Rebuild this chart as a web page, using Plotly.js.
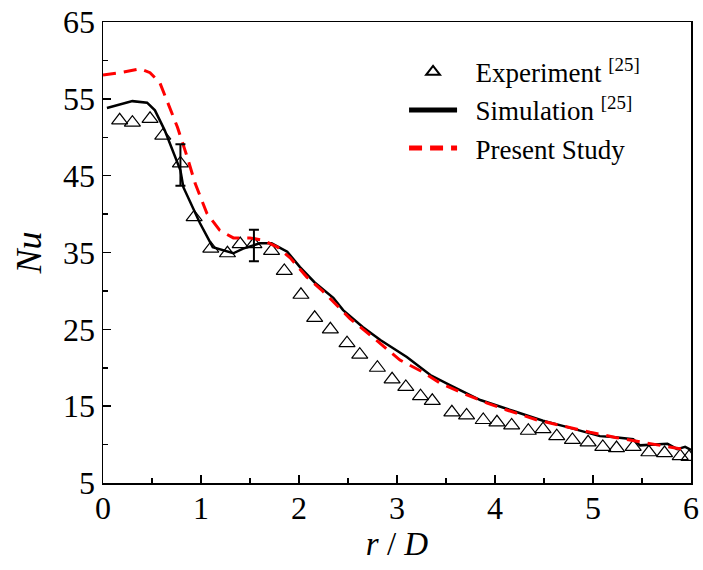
<!DOCTYPE html>
<html><head><meta charset="utf-8">
<script src="https://cdn.plot.ly/plotly-3.0.1.min.js"></script>
<style>html,body{margin:0;padding:0;background:#fff}#c{width:703px;height:570px}</style>
</head><body><div id="c"></div>
<script>
const expX = [0.17,0.30,0.48,0.61,0.79,0.93,1.10,1.27,1.40,1.54,1.72,1.85,2.02,2.16,2.32,2.49,2.62,2.80,2.95,3.09,3.24,3.36,3.56,3.71,3.88,4.02,4.17,4.34,4.49,4.63,4.79,4.95,5.10,5.24,5.41,5.57,5.73,5.89,5.98];
const expY = [52.2,51.9,52.4,50.2,46.6,39.6,35.5,34.9,36.1,36.1,35.2,32.6,29.5,26.5,25.0,23.2,21.7,20.0,18.5,17.5,16.3,15.7,14.2,13.8,13.2,12.9,12.5,11.8,12.0,11.1,10.6,10.3,9.7,9.55,9.7,9.0,8.9,8.5,8.4];
const errX = [0.79,1.54];
const errY = [46.4,35.9];
const errV = [2.7,2.05];
const simX = [0.04,0.30,0.45,0.53,0.63,0.70,0.79,0.82,0.91,0.99,1.12,1.33,1.43,1.60,1.72,1.88,2.01,2.16,2.35,2.45,2.65,2.83,3.10,3.34,3.54,3.85,4.18,4.49,4.73,5.07,5.20,5.41,5.48,5.76,5.86,5.94,6.0];
const simY = [53.8,54.7,54.5,53.5,50.9,48.7,45.7,43.5,40.9,38.8,35.7,34.9,35.5,36.2,36.2,35.1,33.1,31.1,29.1,27.5,25.3,23.6,21.4,19.05,17.75,15.8,14.4,13.1,12.3,11.1,11.0,10.7,9.9,10.1,9.4,9.7,9.3];
const presX = [0,0.17,0.38,0.48,0.58,0.66,0.76,0.86,0.94,1.06,1.19,1.33,1.50,1.63,1.78,1.91,2.08,2.24,2.52,2.76,3.03,3.27,3.44,3.67,3.92,4.12,4.43,4.97,5.24,5.55,5.96];
const presY = [58.1,58.4,58.9,58.4,57.1,54.5,51.3,47.4,44.0,40.1,37.9,36.9,36.9,36.6,35.7,34.3,31.8,30.0,26.4,23.9,21.0,19.4,18.0,16.7,15.4,14.5,13.2,11.6,10.9,10.2,9.3];
const xTicks = [0,1,2,3,4,5,6];
const yTicks = [5,15,25,35,45,55,65];

const FONT = 'Liberation Serif';
const traces = [
  {x: expX, y: expY, mode: 'markers', type: 'scatter', name: '\u2002Experiment <sup>[25]</sup>',
   marker: {symbol: 'triangle-up-open', size: 14, color: '#000', line: {width: 1.2, color: '#000'}}},
  {x: simX, y: simY, mode: 'lines', type: 'scatter', name: '\u2002Simulation <sup>[25]</sup>',
   line: {color: '#000', width: 2.5}},
  {x: presX, y: presY, mode: 'lines', type: 'scatter', name: '\u2002Present Study',
   line: {color: '#ff0000', width: 3, dash: '13px,8px'}},
  {x: errX, y: errY, mode: 'markers', type: 'scatter', showlegend: false, hoverinfo: 'skip',
   marker: {size: 1, opacity: 0},
   error_y: {type: 'data', array: errV, visible: true, color: '#000', thickness: 2, width: 5}}
];
const axisCommon = {
  showgrid: false, zeroline: false, showline: true, linecolor: '#000', linewidth: 1.5,
  mirror: true, ticks: 'inside', ticklen: 8, tickwidth: 1.5, tickcolor: '#000',
  tickfont: {family: FONT, size: 32, color: '#000'},
  minor: {ticks: 'inside', ticklen: 5, tickwidth: 1.5, tickcolor: '#000'}
};
const layout = {
  width: 703, height: 570,
  margin: {l: 103, r: 12, t: 22, b: 87},
  paper_bgcolor: '#fff', plot_bgcolor: '#fff',
  font: {family: FONT, color: '#000'},
  showlegend: true,
  legend: {x: 0.512, y: 0.944, xanchor: 'left', yanchor: 'top', bgcolor: 'rgba(0,0,0,0)',
           font: {family: FONT, size: 27, color: '#000'}, itemwidth: 48, itemsizing: 'constant', tracegroupgap: 0},
  xaxis: Object.assign({}, axisCommon, {
    range: [0, 6], tickvals: xTicks, ticktext: xTicks.map(String), ticklabelstandoff: -4,
    minor: Object.assign({}, axisCommon.minor, {dtick: 0.5, tick0: 0}),
    title: {text: '<i>r</i> / <i>D</i>', font: {family: FONT, size: 33, color: '#000'}, standoff: 2}
  }),
  yaxis: Object.assign({}, axisCommon, {
    range: [5, 65], tickvals: yTicks, ticktext: yTicks.map(String),
    minor: Object.assign({}, axisCommon.minor, {dtick: 5, tick0: 0}),
    title: {text: '<i>Nu</i>', font: {family: FONT, size: 36, color: '#000'}, standoff: 10}
  })
};
Plotly.newPlot('c', traces, layout, {displayModeBar: false, staticPlot: true});
</script></body></html>
